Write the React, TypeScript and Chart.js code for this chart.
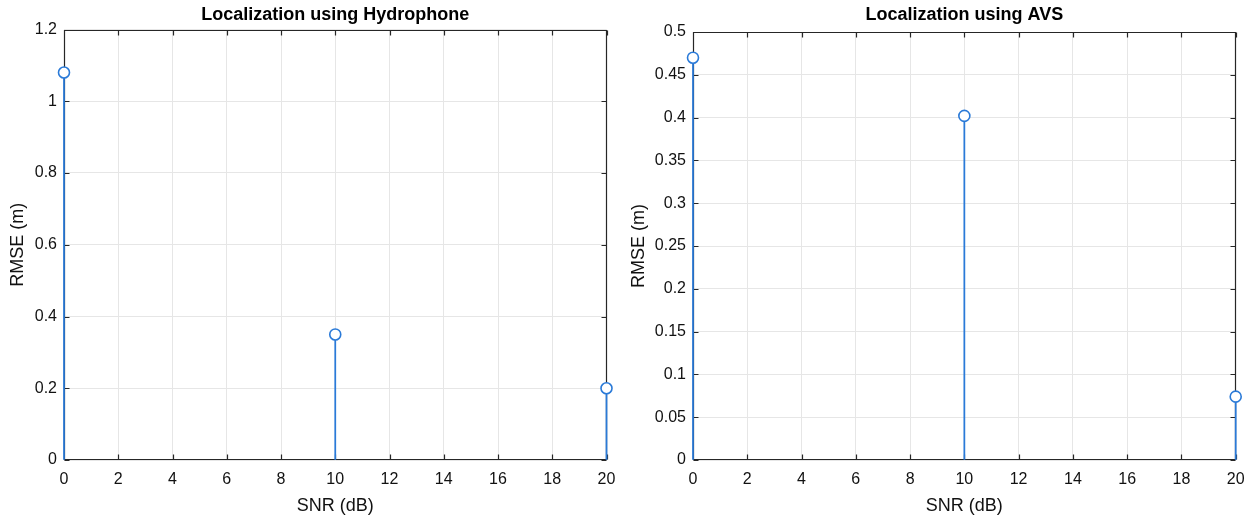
import React, { useEffect, useRef } from 'react';
import { Chart, registerables } from 'chart.js';

Chart.register(...registerables);

// ---- data ----
const snr = [0, 10, 20];
const hydrophoneRmse = [1.08, 0.35, 0.2];
const avsRmse = [0.47, 0.402, 0.074];

const snrTicks = [0, 2, 4, 6, 8, 10, 12, 14, 16, 18, 20];
const hydrophoneTicks = [0, 0.2, 0.4, 0.6, 0.8, 1, 1.2];
const avsTicks = [0, 0.05, 0.1, 0.15, 0.2, 0.25, 0.3, 0.35, 0.4, 0.45, 0.5];

const hydrophoneTitle = 'Localization using Hydrophone';
const avsTitle = 'Localization using AVS';
const xTitle = 'SNR (dB)';
const yTitle = 'RMSE (m)';

const FONT = "'Liberation Sans', Arial, Helvetica, sans-serif";
const STEM = '#2a7ad8';
const AXIS = '#262626';
const GRID = '#e6e6e6';

const fmt = (v: number | string) => String(Number(Number(v).toFixed(3)));

const boxPlugin = {
  id: 'matlabBox',
  beforeDatasetsDraw(chart: any) {
    const { ctx, chartArea: a, scales } = chart;
    const xs = scales.x;
    const ys = scales.y;
    const L = Math.round(a.left) + 0.5;
    const R = Math.round(a.right) - 0.5;
    const T = Math.round(a.top) + 0.5;
    const B = Math.round(a.bottom) - 0.5;
    const tl = 5;
    ctx.save();
    ctx.strokeStyle = AXIS;
    ctx.lineWidth = 1.2;
    ctx.beginPath();
    ctx.rect(L, T, R - L, B - T);
    xs.ticks.forEach((t: any) => {
      const p = Math.round(xs.getPixelForValue(t.value)) + 0.5;
      ctx.moveTo(p, B);
      ctx.lineTo(p, B - tl);
      ctx.moveTo(p, T);
      ctx.lineTo(p, T + tl);
    });
    ys.ticks.forEach((t: any) => {
      const p = Math.round(ys.getPixelForValue(t.value)) + 0.5;
      ctx.moveTo(L, p);
      ctx.lineTo(L + tl, p);
      ctx.moveTo(R, p);
      ctx.lineTo(R - tl, p);
    });
    ctx.stroke();
    ctx.restore();
  },
};

type PanelProps = {
  left: number;
  title: string;
  values: number[];
  yTicks: number[];
  yMax: number;
  yAxisWidth: number;
  rightPad: number;
  titleBottomPad: number;
  yTitlePad: number;
};

function Panel(p: PanelProps) {
  const ref = useRef<HTMLCanvasElement>(null);
  useEffect(() => {
    const points = snr.map((x, i) => ({ x, y: p.values[i] }));
    const chart = new Chart(ref.current as HTMLCanvasElement, {
      type: 'scatter',
      data: {
        datasets: [
          {
            type: 'scatter',
            data: points,
            pointRadius: 5.5,
            pointBorderWidth: 1.6,
            pointBorderColor: STEM,
            pointBackgroundColor: '#ffffff',
            clip: false,
            order: 0,
          } as any,
          {
            type: 'bar',
            data: points,
            backgroundColor: STEM,
            borderWidth: 0,
            barThickness: 1.1,
            clip: false,
            order: 1,
          } as any,
        ],
      },
      options: {
        animation: false,
        responsive: false,
        maintainAspectRatio: false,
        events: [],
        layout: { padding: { left: 0, right: p.rightPad, top: 0, bottom: 0 } },
        plugins: {
          legend: { display: false },
          tooltip: { enabled: false },
          title: {
            display: true,
            text: p.title,
            fullSize: false,
            color: '#000',
            font: { family: FONT, size: 18, weight: 'bold' },
            padding: { top: 4, bottom: p.titleBottomPad },
          },
        },
        scales: {
          x: {
            type: 'linear',
            min: 0,
            max: 20,
            offset: false,
            afterBuildTicks: (s: any) => {
              s.ticks = snrTicks.map((v) => ({ value: v }));
            },
            afterFit: (s: any) => {
              s.height = 60;
            },
            grid: { color: GRID, drawTicks: false, offset: false },
            border: { display: false },
            ticks: {
              padding: 10,
              color: '#111',
              maxRotation: 0,
              autoSkip: false,
              font: { family: FONT, size: 16 },
              callback: (v: any) => fmt(v),
            },
            title: {
              display: true,
              text: xTitle,
              color: '#111',
              font: { family: FONT, size: 18 },
              padding: { top: 0, bottom: 3 },
            },
          },
          y: {
            type: 'linear',
            min: 0,
            max: p.yMax,
            afterBuildTicks: (s: any) => {
              s.ticks = p.yTicks.map((v) => ({ value: v }));
            },
            afterFit: (s: any) => {
              s.width = p.yAxisWidth;
            },
            grid: { color: GRID, drawTicks: false },
            border: { display: false },
            ticks: {
              padding: 7,
              color: '#111',
              autoSkip: false,
              font: { family: FONT, size: 16 },
              callback: (v: any) => fmt(v),
            },
            title: {
              display: true,
              text: yTitle,
              color: '#111',
              font: { family: FONT, size: 18 },
              padding: { top: p.yTitlePad, bottom: 0 },
            },
          },
        },
      } as any,
      plugins: [boxPlugin],
    });
    return () => chart.destroy();
  }, []);
  return (
    <canvas
      ref={ref}
      width={628}
      height={520}
      style={{ position: 'absolute', left: p.left, top: 0, width: 628, height: 520, display: 'block' }}
    />
  );
}

export default function App() {
  return (
    <div style={{ position: 'fixed', left: 0, top: 0, width: 1256, height: 520, background: '#fff' }}>
      <Panel
        left={0}
        title={hydrophoneTitle}
        values={hydrophoneRmse}
        yTicks={hydrophoneTicks}
        yMax={1.2}
        yAxisWidth={64}
        rightPad={21.5}
        titleBottomPad={3.9}
        yTitlePad={7}
      />
      <Panel
        left={628}
        title={avsTitle}
        values={avsRmse}
        yTicks={avsTicks}
        yMax={0.5}
        yAxisWidth={65}
        rightPad={20.3}
        titleBottomPad={6.4}
        yTitlePad={0}
      />
    </div>
  );
}
